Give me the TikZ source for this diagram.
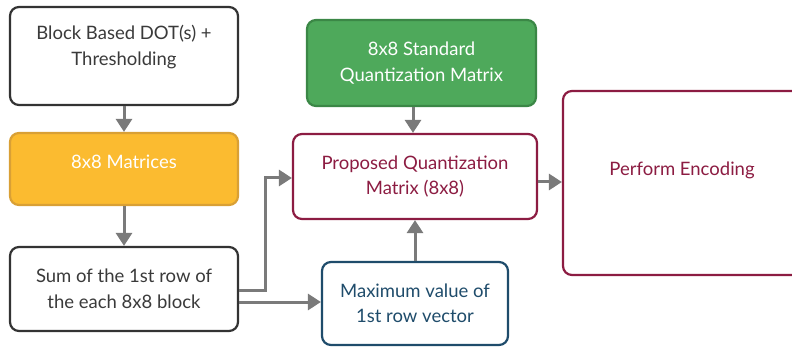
\documentclass[tikz,border=0pt]{standalone}
\usepackage{fontspec}
\setmainfont{Lato}
\usetikzlibrary{arrows.meta}
\definecolor{arrowgray}{HTML}{7A7A7A}
\definecolor{darkbd}{HTML}{333333}
\definecolor{yellowfill}{HTML}{FBBB30}
\definecolor{yellowbd}{HTML}{D9A035}
\definecolor{greenfill}{HTML}{4EA95B}
\definecolor{greenbd}{HTML}{3B8746}
\definecolor{maroon}{HTML}{8C1C42}
\definecolor{navy}{HTML}{1F4C6B}
\definecolor{txtgray}{HTML}{3A3A3A}
\tikzset{
  box/.style={draw, rounded corners=9pt, line width=2.2pt, inner sep=0pt, align=center},
  lbl/.style={font=\fontsize{18.5}{25.5}\selectfont, align=center, inner sep=0pt},
  arr/.style={draw=arrowgray, line width=3pt, -{Triangle[width=16pt,length=13pt]}},
}
\begin{document}
\begin{tikzpicture}[x=1pt,y=-1pt]
\useasboundingbox (0,0) rectangle (792,347);
\clip (0,0) rectangle (792,347);
% boxes
\node[box, draw=darkbd, fill=white, minimum width=228pt, minimum height=98pt] (b1) at (124,56) {};
\node[lbl, text=txtgray] (t1) at (124,47) {Block Based DOT(s) +\\Thresholding};
\node[box, draw=yellowbd, fill=yellowfill, minimum width=228pt, minimum height=72pt] (b2) at (124,169) {};
\node[lbl, text=white] (t2) at (124,162) {8x8 Matrices};
\node[box, draw=darkbd, fill=white, minimum width=228pt, minimum height=84pt, lbl, text=txtgray] (b3) at (124,289) {Sum of the 1st row of\\the each 8x8 block};
\node[box, draw=greenbd, fill=greenfill, minimum width=229pt, minimum height=86pt, lbl, text=white] (g) at (421.5,63) {8x8 Standard\\Quantization Matrix};
\node[box, draw=maroon, fill=white, minimum width=244pt, minimum height=85pt, lbl, text=maroon] (p) at (415,176.5) {Proposed Quantization\\Matrix (8x8)};
\node[box, draw=navy, fill=white, minimum width=186pt, minimum height=83pt, lbl, text=navy] (m) at (415,303.5) {Maximum value of\\1st row vector};
\node[box, draw=maroon, fill=white, minimum width=250pt, minimum height=184pt] (e) at (688,183) {};
\node[lbl, text=maroon] (te) at (682,170) {Perform Encoding};
% connectors
\draw[arr] (b1.south) -- (b2.north);
\draw[arr] (b2.south) -- (b3.north);
\coordinate (c1) at (265,290);
\draw[arr] (b3.east |- c1) -- (c1) |- (p.west |- 0,178);
\draw[arr] (b3.east |- 0,302) -- (m.west |- 0,302);
\draw[arr] (g.south -| 413,0) -- (p.north -| 413,0);
\draw[arr] (m.north) -- (p.south);
\draw[arr] (p.east |- 0,182) -- (e.west |- 0,182);
\end{tikzpicture}
\end{document}
